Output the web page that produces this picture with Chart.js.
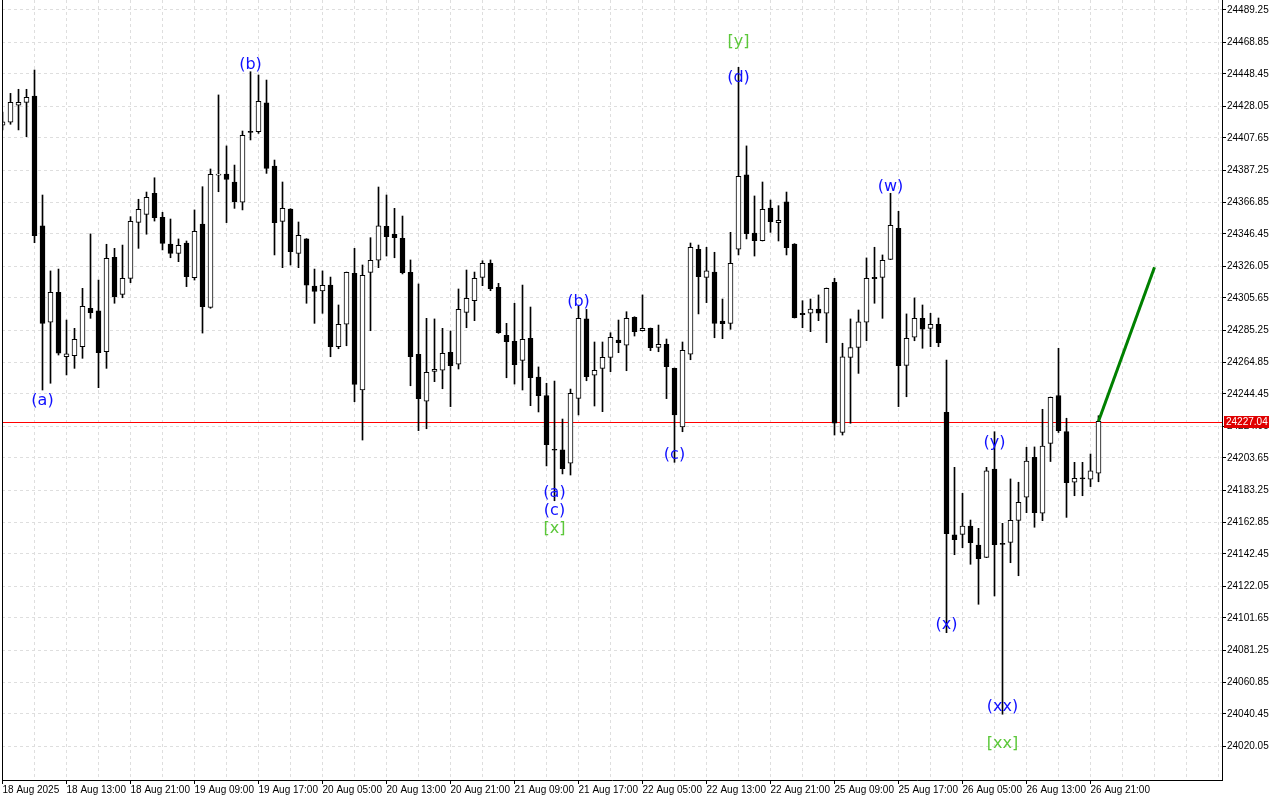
<!DOCTYPE html>
<html><head><meta charset="utf-8">
<script src="https://cdn.jsdelivr.net/npm/chart.js@4.4.1/dist/chart.umd.min.js"></script>
<style>html,body{margin:0;padding:0;background:#fff;overflow:hidden}canvas{display:block}</style>
</head><body>
<canvas id="c" width="1280" height="800"></canvas>
<script>
// ---- data (hourly candles, index 0..137) ----
const opens = [24415.9,24417.7,24428.5,24430.4,24434.4,24351.6,24290.2,24309.3,24268.2,24268.9,
24274.6,24299.1,24297.4,24271.4,24331.6,24308.0,24318.2,24353.9,24359.0,24372.4,
24357.1,24340.1,24334.1,24340.7,24318.6,24352.8,24299.7,24384.0,24384.7,24379.6,
24366.7,24411.8,24411.7,24430.0,24389.8,24354.5,24362.4,24334.1,24343.3,24313.3,
24310.1,24313.9,24274.6,24288.9,24321.4,24247.0,24322.0,24329.7,24351.4,24346.3,
24343.7,24322.0,24269.8,24239.8,24258.9,24259.6,24271.0,24263.4,24296.5,24303.9,
24318.8,24327.8,24312.5,24281.9,24278.0,24265.9,24280.0,24255.3,24243.4,24208.9,
24208.8,24200.3,24241.7,24292.3,24256.4,24260.8,24267.8,24278.9,24275.5,24293.3,
24284.8,24286.3,24274.2,24276.1,24260.8,24223.4,24269.8,24336.7,24318.8,24322.2,
24291.0,24289.5,24336.7,24384.1,24347.1,24342.2,24363.0,24353.7,24366.9,24340.1,
24295.9,24295.9,24298.6,24295.9,24315.7,24220.0,24267.8,24274.2,24290.2,24318.8,
24318.8,24330.3,24350.1,24262.7,24280.6,24292.7,24286.3,24288.9,24232.8,24154.6,
24155.0,24160.3,24148.2,24140.3,24196.6,24149.0,24149.9,24163.9,24178.6,24204.1,
24168.4,24213.0,24243.5,24220.5,24188.2,24190.6,24190.1,24193.9];
const highs = [24424.2,24436.1,24438.7,24438.7,24451.0,24371.3,24322.9,24324.1,24291.6,24286.3,
24311.8,24346.5,24317.1,24339.9,24337.3,24339.4,24357.5,24368.6,24373.2,24382.3,
24360.3,24356.0,24343.3,24342.0,24361.8,24376.6,24387.9,24435.1,24402.6,24390.4,
24412.1,24449.9,24447.8,24444.6,24393.6,24379.6,24362.6,24354.1,24343.5,24324.1,
24322.9,24319.0,24301.2,24322.2,24337.3,24326.7,24344.1,24376.4,24371.3,24362.8,
24357.9,24329.9,24314.6,24292.7,24292.3,24286.3,24284.6,24311.4,24323.5,24322.2,
24329.4,24329.9,24315.0,24289.5,24302.3,24313.9,24299.9,24261.7,24251.3,24252.7,
24228.5,24247.6,24300.6,24298.4,24277.6,24277.6,24283.5,24291.6,24296.9,24293.7,
24307.6,24286.5,24288.4,24279.5,24261.0,24277.6,24340.7,24339.4,24338.0,24334.8,
24305.0,24347.5,24452.7,24402.6,24370.7,24379.6,24368.1,24364.5,24373.2,24340.3,
24303.9,24305.0,24307.6,24312.0,24318.2,24276.8,24292.3,24298.0,24331.2,24338.0,
24333.1,24372.4,24360.9,24295.5,24305.7,24301.2,24295.9,24292.9,24266.1,24197.7,
24181.1,24164.1,24158.8,24197.7,24220.4,24162.0,24190.3,24188.2,24210.5,24210.7,
24234.7,24242.5,24273.6,24229.0,24200.9,24200.9,24206.2,24230.6];
const lows = [24412.8,24416.4,24412.8,24408.5,24340.9,24247.0,24251.3,24269.3,24256.6,24260.8,
24267.2,24292.7,24248.5,24260.8,24302.3,24305.8,24315.4,24337.3,24346.3,24354.7,
24336.3,24331.3,24328.8,24312.9,24317.1,24283.3,24299.1,24373.4,24353.7,24362.8,
24361.8,24406.4,24410.6,24385.1,24333.1,24325.0,24326.7,24325.0,24302.3,24289.5,
24295.9,24268.2,24273.3,24275.2,24239.5,24215.1,24284.8,24325.0,24332.4,24331.3,
24321.0,24249.7,24221.1,24222.3,24252.3,24247.8,24236.4,24260.4,24286.7,24291.2,
24313.5,24310.3,24283.1,24254.8,24250.8,24247.0,24237.0,24233.0,24198.6,24176.4,
24193.5,24192.8,24231.1,24252.9,24236.8,24233.2,24258.7,24270.8,24259.3,24281.4,
24284.6,24272.1,24271.4,24241.5,24200.9,24220.4,24266.3,24295.5,24302.7,24280.3,
24279.7,24285.7,24333.1,24343.3,24332.4,24342.0,24347.5,24342.0,24333.1,24292.9,
24286.7,24284.2,24291.2,24277.2,24218.3,24218.3,24225.8,24257.6,24278.4,24302.3,
24292.7,24330.1,24236.4,24242.7,24278.4,24273.6,24274.6,24274.6,24092.3,24142.0,
24146.5,24135.9,24110.4,24140.1,24115.7,24040.3,24136.9,24128.6,24168.8,24159.5,
24163.7,24201.4,24219.9,24165.8,24179.6,24179.6,24185.4,24188.5];
const closes = [24417.9,24430.4,24430.4,24433.6,24345.4,24289.5,24309.3,24270.4,24270.0,24279.3,
24300.4,24296.3,24270.8,24331.0,24306.5,24318.2,24354.5,24362.2,24369.8,24356.8,
24340.5,24334.1,24339.2,24319.2,24348.2,24300.1,24384.5,24384.2,24381.3,24367.0,
24409.4,24411.2,24431.0,24388.3,24353.7,24362.8,24335.2,24345.6,24313.9,24309.9,
24313.7,24274.6,24288.9,24322.0,24250.6,24320.1,24329.7,24351.7,24344.7,24344.1,
24321.8,24268.2,24241.5,24258.3,24260.2,24270.4,24262.5,24298.4,24305.5,24318.2,
24327.8,24311.6,24283.5,24277.8,24263.1,24279.3,24254.8,24243.4,24212.1,24208.6,
24196.8,24244.9,24292.7,24255.5,24259.6,24267.8,24280.6,24277.2,24292.7,24284.2,
24286.3,24274.0,24276.1,24261.9,24231.1,24272.3,24338.0,24319.2,24322.9,24289.5,
24289.3,24327.8,24383.2,24346.6,24342.2,24362.2,24354.3,24355.2,24337.7,24293.1,
24295.0,24298.6,24295.9,24311.8,24225.8,24268.2,24274.0,24290.5,24318.2,24318.0,
24329.7,24352.0,24262.5,24280.0,24292.7,24285.7,24288.9,24277.2,24155.4,24151.6,
24160.3,24149.7,24139.5,24195.4,24148.4,24148.6,24163.9,24175.4,24201.7,24168.8,
24211.3,24242.3,24221.1,24188.0,24190.7,24190.3,24195.4,24227.04];

const xLabelIdx = [0,8,16,24,32,40,48,56,64,72,80,88,96,104,112,120,128,136];
const xTickLabels = ["18 Aug 2025","18 Aug 13:00","18 Aug 21:00","19 Aug 09:00","19 Aug 17:00",
"20 Aug 05:00","20 Aug 13:00","20 Aug 21:00","21 Aug 09:00","21 Aug 17:00","22 Aug 05:00",
"22 Aug 13:00","22 Aug 21:00","25 Aug 09:00","25 Aug 17:00","26 Aug 05:00","26 Aug 13:00","26 Aug 21:00"];
const yTickLabels = ["24489.25","24468.85","24448.45","24428.05","24407.65","24387.25","24366.85",
"24346.45","24326.05","24305.65","24285.25","24264.85","24244.45","24224.05","24203.65","24183.25",
"24162.85","24142.45","24122.05","24101.65","24081.25","24060.85","24040.45","24020.05"];
const currentPrice = 24227.04;
const forecastIdx = [137, 144];
const forecastVals = [24227.04, 24325.2];

const waveText  = ["(a)","(b)","(a)","(c)","[x]","(b)","(c)","[y]","(d)","(w)","(x)","(y)","(xx)","[xx]"];
const waveIdx   = [5,31,69,69,69,72,84,92,92,111,118,124,125,125];
const wavePrice = [24241.3,24455.5,24182.6,24171.1,24159.7,24304.4,24206.8,24470.1,24447.2,24377.7,24098.5,24214.5,24046.2,24022.6];
const waveKind  = ["minor","minor","minor","minor","major","minor","minor","major","minor","minor","minor","minor","minor","major"];

// ---- chart ----
Chart.defaults.font.family = "'Liberation Sans', Arial, sans-serif";
Chart.defaults.font.size = 10;
Chart.defaults.color = '#000';

const bodyData = opens.map((o, i) => ({x: i, y: [o, closes[i]]}));
const wickData = lows.map((l, i) => ({x: i, y: [l, highs[i]]}));
const forecastData = forecastIdx.map((v, k) => ({x: v, y: forecastVals[k]}));
const yTickValues = yTickLabels.map(Number);
const GRID = '#dedede';

const overlay = {
  id: 'overlay',
  beforeDatasetsDraw(chart) {
    const {ctx, chartArea: a, scales: {y}} = chart;
    const py = Math.ceil(y.getPixelForValue(currentPrice)) + 0.5;
    ctx.save();
    ctx.strokeStyle = '#ff0000'; ctx.lineWidth = 1;
    ctx.beginPath(); ctx.moveTo(a.left, py); ctx.lineTo(a.right, py); ctx.stroke();
    ctx.restore();
  },
  afterDraw(chart) {
    const {ctx, chartArea: a, scales: {x, y}} = chart;
    ctx.save();
    // left frame line
    ctx.strokeStyle = '#000'; ctx.lineWidth = 1;
    ctx.beginPath(); ctx.moveTo(a.left + 0.5, a.top); ctx.lineTo(a.left + 0.5, a.bottom); ctx.stroke();
    // current price box
    const py = Math.ceil(y.getPixelForValue(currentPrice)) + 0.5;
    ctx.fillStyle = '#e00000';
    ctx.fillRect(a.right + 2, Math.round(py - 6.5), 45, 12);
    ctx.fillStyle = '#fff';
    ctx.font = "10px 'Liberation Sans', Arial, sans-serif";
    ctx.textAlign = 'left'; ctx.textBaseline = 'middle';
    ctx.fillText(currentPrice.toFixed(2), a.right + 4, py);
    // wave labels
    ctx.font = "16px 'DejaVu Sans', sans-serif";
    ctx.textAlign = 'center'; ctx.textBaseline = 'middle';
    waveText.forEach((t, k) => {
      ctx.fillStyle = waveKind[k] === 'major' ? '#5cc83a' : '#1010ff';
      ctx.fillText(t, x.getPixelForValue(waveIdx[k]), y.getPixelForValue(wavePrice[k]) + 2);
    });
    ctx.restore();
  }
};

new Chart(document.getElementById('c'), {
  type: 'bar',
  data: {
    datasets: [
      {
        label: 'forecast', type: 'line', data: forecastData,
        borderColor: '#008000', borderWidth: 3, pointRadius: 0, order: -1
      },
      {
        label: 'body', data: bodyData, grouped: false,
        backgroundColor: c => (closes[c.dataIndex] >= opens[c.dataIndex] ? '#ffffff' : '#000000'),
        borderColor: '#000', borderWidth: 1, borderSkipped: false,
        barThickness: 5, minBarLength: 1, order: 0
      },
      {
        label: 'wick', data: wickData, grouped: false,
        backgroundColor: '#000', borderWidth: 0, barThickness: 1, order: 1
      }
    ]
  },
  options: {
    responsive: false, animation: false, devicePixelRatio: 1, events: [],
    layout: {padding: {left: 2, top: 0, right: 0, bottom: 0}},
    plugins: {legend: {display: false}, tooltip: {enabled: false}},
    scales: {
      x: {
        type: 'linear', position: 'bottom', min: -0.0625, max: 152.4375, offset: false,
        grid: {
          color: GRID, offset: false, drawTicks: true, tickLength: 4, tickWidth: 1,
          borderDash: [3, 3], tickBorderDash: [],
          tickColor: c => (c.tick && xLabelIdx.includes(c.tick.value) ? '#000' : 'rgba(0,0,0,0)')
        },
        border: {display: true, color: '#000', width: 1, dash: [3, 3]},
        ticks: {
          autoSkip: false, maxRotation: 0, minRotation: 0, align: 'start', padding: 0,
          callback: v => { const k = xLabelIdx.indexOf(v); return k >= 0 ? xTickLabels[k] : ''; }
        },
        afterBuildTicks: s => { const t = []; for (let v = 0; v <= 152; v += 4) t.push({value: v}); s.ticks = t; },
        afterFit: s => { s.height = 20; s.paddingLeft = 0; s.paddingRight = 0; }
      },
      y: {
        type: 'linear', position: 'right', min: 23998.375, max: 24495.625,
        grid: {color: GRID, tickLength: 4, tickColor: '#000', borderDash: [3, 3], tickBorderDash: []},
        border: {display: true, color: '#000', width: 1, dash: [3, 3]},
        ticks: {padding: 1, callback: v => v.toFixed(2)},
        afterBuildTicks: s => { s.ticks = yTickValues.map(v => ({value: v})); },
        afterFit: s => { s.width = 58; s.paddingTop = 0; s.paddingBottom = 0; }
      }
    }
  },
  plugins: [overlay]
});
</script>
</body></html>
